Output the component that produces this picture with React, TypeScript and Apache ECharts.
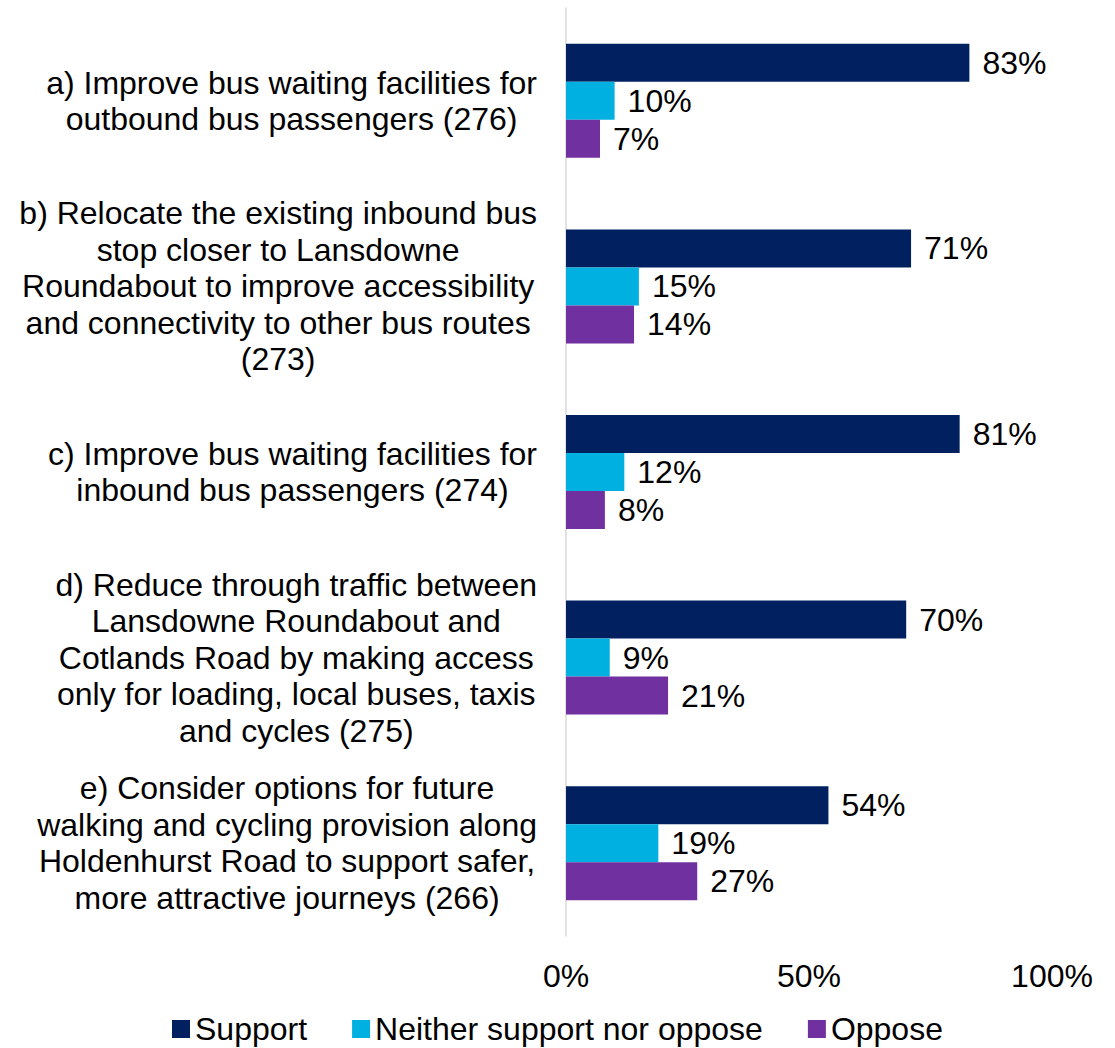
import React, { useEffect, useRef } from "react";
import * as echarts from "echarts";

const categories: string[] = [
  "a) Improve bus waiting facilities for\noutbound bus passengers (276)",
  "b) Relocate the existing inbound bus\nstop closer to Lansdowne\nRoundabout to improve accessibility\nand connectivity to other bus routes\n(273)",
  "c) Improve bus waiting facilities for\ninbound bus passengers (274)",
  "d) Reduce through traffic between\nLansdowne Roundabout and\nCotlands Road by making access\nonly for loading, local buses, taxis\nand cycles (275)",
  "e) Consider options for future\nwalking and cycling provision along\nHoldenhurst Road to support safer,\nmore attractive journeys (266)",
];

const supportValues: number[] = [83, 71, 81, 70, 54];
const neitherValues: number[] = [10, 15, 12, 9, 19];
const opposeValues: number[] = [7, 14, 8, 21, 27];

const seriesNames: string[] = ["Support", "Neither support nor oppose", "Oppose"];
const seriesColors: string[] = ["#002060", "#00B0E0", "#7030A0"];

const FONT = "'Liberation Sans', Arial, sans-serif";

export default function App() {
  const ref = useRef<HTMLDivElement>(null);

  useEffect(() => {
    if (!ref.current) return;
    const chart = echarts.init(ref.current, undefined, { renderer: "svg" });
    const dataSets = [supportValues, neitherValues, opposeValues];
    chart.setOption({
      animation: false,
      textStyle: { fontFamily: FONT },
      legend: {
        left: 167,
        top: 1008,
        icon: "rect",
        itemWidth: 18,
        itemHeight: 18,
        itemGap: 45,
        textStyle: { fontSize: 32, color: "#000", fontFamily: FONT },
        data: seriesNames,
      },
      grid: { left: 566, right: 63, top: 8, bottom: 112 },
      xAxis: {
        type: "value",
        min: 0,
        max: 100,
        interval: 50,
        splitLine: { show: false },
        axisLine: { show: false },
        axisTick: { show: false },
        axisLabel: {
          formatter: "{value}%",
          fontSize: 32,
          color: "#000",
          fontFamily: FONT,
          margin: 24,
        },
      },
      yAxis: {
        type: "category",
        inverse: true,
        data: categories,
        axisLine: { show: true, lineStyle: { color: "#d9d9d9", width: 1.5 } },
        axisTick: { show: false },
        axisLabel: {
          align: "right",
          margin: 29,
          fontSize: 32,
          lineHeight: 36.5,
          color: "#000",
          fontFamily: FONT,
          formatter: (value: string) =>
            value
              .split("\n")
              .map((l) => `{c|${l}}`)
              .join("\n"),
          rich: {
            c: {
              align: "center",
              fontSize: 32,
              lineHeight: 36.5,
              color: "#000",
              fontFamily: FONT,
            },
          },
        },
      },
      series: seriesNames.map((name, i) => ({
        name,
        type: "bar",
        data: dataSets[i],
        barWidth: 38,
        barGap: "0%",
        itemStyle: { color: seriesColors[i] },
        label: {
          show: true,
          position: "right",
          distance: 13,
          formatter: "{c}%",
          fontSize: 32,
          color: "#000",
          fontFamily: FONT,
        },
      })),
    });
    return () => chart.dispose();
  }, []);

  return (
    <div
      ref={ref}
      style={{ position: "fixed", left: 0, top: 0, width: 1115, height: 1048, background: "#fff" }}
    />
  );
}
